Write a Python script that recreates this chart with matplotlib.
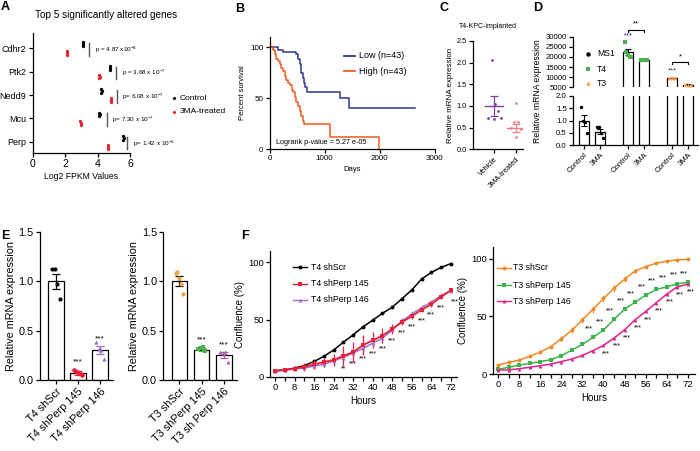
import numpy as np
import matplotlib
matplotlib.use('Agg')
import matplotlib.pyplot as plt
from matplotlib.lines import Line2D

plt.rcParams['font.family'] = ['Liberation Sans', 'DejaVu Sans']
plt.rcParams['mathtext.fontset'] = 'custom'
plt.rcParams['mathtext.rm'] = 'Liberation Sans'
plt.rcParams['mathtext.it'] = 'Liberation Sans:italic'
plt.rcParams['axes.linewidth'] = 0.9
plt.rcParams['xtick.major.width'] = 0.9
plt.rcParams['ytick.major.width'] = 0.9
plt.rcParams['xtick.major.size'] = 3
plt.rcParams['ytick.major.size'] = 3
plt.rcParams['xtick.major.pad'] = 1.5
plt.rcParams['ytick.major.pad'] = 1.5

# ---------------- data ----------------
# Panel A
genes = ['Cdhr2', 'Ptk2', 'Nedd9', 'Mcu', 'Perp']
a_control = [[3.09, 3.13, 3.11], [4.75, 4.79, 4.77], [4.21, 4.25, 4.23],
             [4.08, 4.12, 4.10], [5.56, 5.60, 5.58]]
a_treated = [[2.10, 2.14, 2.12], [4.08, 4.12, 4.10], [4.81, 4.85, 4.83],
             [2.94, 2.98, 2.96], [4.63, 4.67, 4.65]]
a_pvals = ['p = 4.87 x10$^{-8}$', 'p = 3.68 x 10$^{-7}$', 'p= 6.08 x 10$^{-7}$',
           'p= 7.30 x 10$^{-7}$', 'p= 1.42 x 10$^{-6}$']
a_sig_x = [3.5, 5.15, 5.2, 4.57, 5.84]

# Panel B (Kaplan-Meier steps)
low_days = [0, 150, 245, 490, 520, 550, 565, 580, 600, 620, 645, 675, 1285, 1450, 2650]
low_surv = [100, 97.7, 95.3, 93.0, 88.4, 83.7, 79.1, 74.4, 69.8, 65.1, 60.5, 55.8, 50.0, 40.5, 40.5]
high_days = [0, 60, 95, 125, 160, 190, 215, 245, 275, 305, 340, 370, 400, 430, 460,
             490, 520, 550, 575, 600, 625, 1100, 1990]
high_surv = [100, 97.7, 93.0, 88.4, 86.0, 83.7, 79.1, 76.7, 72.1, 67.4, 65.1, 62.8, 58.1,
             55.8, 51.2, 46.5, 41.9, 37.2, 32.6, 27.9, 24.4, 12.2, 0]

# Panel C
c_groups = ['Vehicle', '3MA-treated']
c_vehicle = [2.07, 1.05, 0.88, 0.72, 0.71, 0.72]
c_treated = [1.06, 0.64, 0.63, 0.50, 0.47, 0.28]
c_mean = [1.0, 0.49]
c_sem = [0.22, 0.10]

# Panel D
d_labels = ['Control', '3MA', 'Control', '3MA', 'Control', '3MA']
d_means = [1.0, 0.55, 22300, 18500, 9500, 6300]
d_sem = [0.22, 0.10, 1500, 300, 150, 150]
d_points = [[1.53, 1.0, 0.95, 0.50], [0.73, 0.73, 0.48, 0.28],
            [27600, 22500, 21000, 20000, 19800], [18700, 18500, 18300, 18400],
            [9600, 9500, 9400, 9500, 9450], [6400, 6300, 6200, 6350, 6300]]

# Panel E
e_left_labels = ['T4 shScr', 'T4 shPerp 145', 'T4 shPerp 146']
e_left_means = [1.0, 0.075, 0.30]
e_left_sem = [0.075, 0.02, 0.04]
e_left_pts = [[1.12, 1.12, 0.97, 0.82], [0.10, 0.08, 0.07, 0.05], [0.38, 0.31, 0.30, 0.21]]
e_right_labels = ['T3 shScr', 'T3 shPerp 145', 'T3 sh Perp 146']
e_right_means = [1.0, 0.305, 0.25]
e_right_sem = [0.05, 0.015, 0.03]
e_right_pts = [[1.08, 1.09, 1.03, 0.97, 0.87], [0.31, 0.32, 0.33, 0.29], [0.28, 0.27, 0.28, 0.18]]

# Panel F
hours = [0, 4, 8, 12, 16, 20, 24, 28, 32, 36, 40, 44, 48, 52, 56, 60, 64, 68, 72]
f_t4_scr = [5.2, 6.0, 7.8, 10.0, 13.6, 18.0, 23.5, 30.4, 36.8, 43.8, 49.6, 55.6, 60.9, 68.4, 76.0, 85.5, 91.3, 95.7, 99.0]
f_t4_145 = [5.5, 6.5, 7.2, 9.0, 11.0, 13.0, 15.0, 18.5, 21.7, 27.8, 31.9, 36.2, 42.0, 48.0, 53.0, 58.6, 63.5, 70.0, 75.6]
f_t4_146 = [5.0, 6.0, 7.0, 8.0, 9.5, 11.0, 14.0, 17.0, 21.0, 25.0, 29.5, 34.0, 41.0, 49.0, 55.0, 60.5, 65.5, 71.0, 75.5]
f_t4_145_err = [1.5, 1.5, 2.0, 3.5, 4.0, 4.0, 5.0, 8.5, 9.0, 9.0, 7.0, 6.5, 4.5, 3.0, 2.5, 2.0, 2.0, 2.0, 1.5]
f_t4_146_err = [1.0, 1.0, 1.0, 1.5, 2.0, 2.0, 2.0, 2.5, 2.5, 3.0, 3.0, 3.0, 3.0, 2.5, 2.5, 2.0, 2.0, 2.0, 1.5]
f_t3_scr = [7.8, 10.0, 12.0, 15.3, 19.0, 23.6, 30.5, 37.8, 47.0, 56.0, 65.4, 74.4, 82.0, 89.3, 93.0, 96.0, 97.7, 98.8, 99.4]
f_t3_145 = [4.0, 5.8, 7.5, 9.2, 10.7, 12.4, 15.8, 20.7, 25.6, 31.7, 38.0, 47.3, 56.2, 62.2, 68.3, 73.2, 75.5, 78.1, 79.5]
f_t3_146 = [3.5, 3.5, 4.6, 5.8, 7.2, 8.6, 10.7, 13.0, 16.1, 20.2, 24.8, 31.1, 38.3, 47.0, 54.2, 61.7, 69.2, 75.5, 77.8]
f_t3_scr_err = [1.0, 1.0, 1.0, 1.0, 1.0, 1.5, 2.0, 2.5, 2.5, 3.0, 3.0, 3.0, 2.5, 2.0, 1.5, 1.0, 1.0, 1.0, 1.0]

# ---------------- figure ----------------
W, H = 700, 451
fig = plt.figure(figsize=(7, 4.51), dpi=100)


def pax(x0, y0, x1, y1):
    return fig.add_axes([x0 / W, 1 - y1 / H, (x1 - x0) / W, (y1 - y0) / H])


def ftext(x, y, s, **kw):
    return fig.text(x / W, 1 - y / H, s, **kw)


def leg_entry(x0, x1, y, color, marker, label, fs, ms=3, lw=1.0, tx=None, mk_only=False):
    yy = 1 - y / H
    if not mk_only:
        fig.add_artist(Line2D([x0 / W, x1 / W], [yy, yy], color=color, lw=lw,
                              transform=fig.transFigure))
    fig.add_artist(Line2D([(x0 + x1) / 2 / W], [yy], marker=marker, color=color, ms=ms,
                          mew=0, transform=fig.transFigure))
    fig.text((tx if tx is not None else x1 + 4) / W, yy, label, fontsize=fs,
             va='center', ha='left')


def clean(ax):
    ax.spines['top'].set_visible(False)
    ax.spines['right'].set_visible(False)


# panel letters
for lab, (x, y) in zip('ABCDEF', [(1, 1), (235, 3), (440, 2), (533, 2), (1, 230), (241, 230)]):
    ftext(x, y, lab, fontsize=9, fontweight='bold', va='top', ha='left')

# ---------- Panel A ----------
axA = pax(32.7, 33.3, 130, 153)
clean(axA)
axA.set_xlim(0, 6)
axA.set_ylim(4.48, -0.64)
rep_off = [-0.08, 0.0, 0.08]
for i in range(len(genes)):
    for k in range(3):
        axA.plot(a_control[i][k], i - 0.17 + rep_off[k], 'o', color='black', ms=2.4, mew=0)
        axA.plot(a_treated[i][k], i + 0.21 + rep_off[k], 'o', color='#e3262f', ms=2.4, mew=0)
    axA.plot([a_sig_x[i]] * 2, [i - 0.21, i + 0.33], color='#555555', lw=1.0)
    axA.text(a_sig_x[i] + 0.33, i + 0.07, a_pvals[i], fontsize=4.6, va='center',
             ha='left', clip_on=False)
axA.set_yticks(range(len(genes)))
axA.set_yticklabels(genes, fontsize=6.5)
axA.set_xticks([0, 2, 4, 6])
axA.tick_params(axis='x', labelsize=7.5)
axA.set_xlabel('Log2 FPKM Values', fontsize=6.2, labelpad=2)
ftext(106, 15, 'Top 5 significantly altered genes', fontsize=7.2, ha='center', va='center')
leg_entry(172, 176, 98.3, 'black', 'o', 'Control', 6, ms=2.2, tx=180, mk_only=True)
leg_entry(172, 176, 111.5, '#e3262f', 'o', '3MA-treated', 6, ms=2.2, tx=180, mk_only=True)

# ---------- Panel B ----------
axB = pax(269.5, 37, 434.5, 149)
clean(axB)
blue = '#2b3990'
orange = '#f15a22'
axB.step(low_days, low_surv, where='post', color=blue, lw=1.1, clip_on=False)
axB.step(high_days, high_surv, where='post', color=orange, lw=1.1, clip_on=False)
axB.set_xlim(0, 3000)
axB.set_ylim(0, 110)
axB.set_xticks([0, 1000, 2000, 3000])
axB.set_yticks([0, 50, 100])
axB.tick_params(labelsize=5.8)
axB.set_xlabel('Days', fontsize=5.5, labelpad=3)
axB.set_ylabel('Percent survival', fontsize=5.5, labelpad=3)
axB.text(0.04, 0.06, 'Logrank p-value = 5.27 e-05', transform=axB.transAxes,
         fontsize=5.2, va='center', ha='left')
leg_entry(344, 355, 56, blue, None, 'Low (n=43)', 6.5, lw=1.3, tx=359)
leg_entry(344, 355, 71, orange, None, 'High (n=43)', 6.5, lw=1.3, tx=359)

# ---------- Panel C ----------
axC = pax(473, 41, 523, 149.3)
clean(axC)
c_cols = ['#7b3f9e', '#ef7f8f']
c_jit = [[-0.1, 0.05, 0.15, -0.3, 0.0, 0.3], [0.0, -0.1, 0.1, -0.25, 0.25, 0.0]]
for g, pts in enumerate([c_vehicle, c_treated]):
    axC.plot([g + j for j in c_jit[g]], pts, 'o', color=c_cols[g], ms=2.0, mew=0)
    axC.plot([g - 0.42, g + 0.42], [c_mean[g]] * 2, color=c_cols[g], lw=1.0)
    axC.errorbar(g, c_mean[g], yerr=c_sem[g], color=c_cols[g], capsize=3, lw=0.9,
                 capthick=0.9)
axC.set_xlim(-0.98, 1.32)
axC.set_ylim(0, 2.5)
axC.set_yticks([0, 0.5, 1.0, 1.5, 2.0, 2.5])
axC.set_yticklabels(['0.0', '0.5', '1.0', '1.5', '2.0', '2.5'])
axC.set_xticks([0, 1])
axC.set_xticklabels(c_groups, rotation=45, ha='right', rotation_mode='anchor')
axC.tick_params(labelsize=5.3)
axC.set_ylabel('Relative mRNA expression', fontsize=5.8, labelpad=2)
ftext(488, 26, 'T4-KPC-implanted', fontsize=5.0, ha='center', va='center')

# ---------- Panel D ----------
d_pos = [0, 1, 2.75, 3.75, 5.5, 6.5]
d_cols = ['black', 'black', '#4caf50', '#4caf50', '#f7a048', '#f7a048']
d_mk = ['o', 'o', 's', 's', '^', '^']
axDu = pax(573, 36.7, 698, 87.3)
axDl = pax(573, 95.7, 698, 145.3)
for ax in (axDu, axDl):
    clean(ax)
    ax.set_xlim(-0.69, 7.12)
    ax.bar(d_pos, d_means, width=0.67, color='white', edgecolor='black', lw=0.9, zorder=1)
    for i in range(6):
        pts = d_points[i]
        jit = np.linspace(-0.2, 0.2, len(pts))
        ax.plot(d_pos[i] + jit, pts, d_mk[i], color=d_cols[i], ms=2.5, mew=0, zorder=3)
        ax.errorbar(d_pos[i], d_means[i], yerr=d_sem[i], color='black', capsize=2.0,
                    lw=0.8, capthick=0.8, zorder=2)
axDu.set_ylim(5000, 30000)
axDu.spines['bottom'].set_visible(False)
axDu.set_xticks([])
axDu.set_yticks([5000, 10000, 15000, 20000, 25000, 30000])
axDu.tick_params(labelsize=5.6)
axDl.set_ylim(0, 2.0)
axDl.set_yticks([0, 0.5, 1.0, 1.5, 2.0])
axDl.set_yticklabels(['0.0', '0.5', '1.0', '1.5', '2.0'])
axDl.set_xticks(d_pos)
axDl.set_xticklabels(d_labels, rotation=45, ha='right', rotation_mode='anchor')
axDl.tick_params(labelsize=5.6)
ftext(538, 91.5, 'Relative mRNA expression', fontsize=6.2, rotation=90, ha='center', va='center')
navy = '#1f2d6b'
axDu.text(d_pos[2], 30400, '***', color=navy, fontsize=5.5, ha='center', va='center', clip_on=False)
axDu.text(d_pos[4], 12900, '***', color=navy, fontsize=5.5, ha='center', va='center', clip_on=False)
axDu.plot([d_pos[2], d_pos[2], d_pos[3], d_pos[3]], [32300, 33400, 33400, 32300],
          color='black', lw=0.8, clip_on=False)
axDu.text((d_pos[2] + d_pos[3]) / 2, 36300, '**', fontsize=5.5, ha='center', va='center', clip_on=False)
axDu.plot([d_pos[4], d_pos[4], d_pos[5], d_pos[5]], [16400, 17500, 17500, 16400],
          color='black', lw=0.8, clip_on=False)
axDu.text((d_pos[4] + d_pos[5]) / 2, 19900, '*', fontsize=5.5, ha='center', va='center', clip_on=False)
leg_entry(586, 590, 54, 'black', 'o', 'MS1', 6.2, ms=3.2, tx=597, mk_only=True)
leg_entry(586, 590, 69, '#4caf50', 's', 'T4', 6.2, ms=3.2, tx=597, mk_only=True)
leg_entry(586, 590, 83, '#f7a048', '^', 'T3', 6.2, ms=3.2, tx=597, mk_only=True)


# ---------- Panel E ----------
def e_panel(ax, labels, means, sems, pts, cols, mks):
    clean(ax)
    x = [0, 1, 2]
    ax.bar(x, means, width=0.7, color='white', edgecolor='black', lw=0.9, zorder=1)
    for i in range(3):
        jit = np.linspace(-0.17, 0.17, len(pts[i]))
        ax.plot(np.array(x[i]) + jit, pts[i], mks[i], color=cols[i], ms=3, mew=0, zorder=3)
        ax.errorbar(x[i], means[i], yerr=sems[i], color=cols[i] if i else 'black',
                    capsize=3, lw=0.9, capthick=0.9, zorder=2)
    ax.set_xlim(-0.72, 2.58)
    ax.set_ylim(0, 1.5)
    ax.set_yticks([0, 0.5, 1.0, 1.5])
    ax.set_yticklabels(['0.0', '0.5', '1.0', '1.5'])
    ax.set_xticks(x)
    ax.set_xticklabels(labels, rotation=45, ha='right', rotation_mode='anchor')
    ax.tick_params(labelsize=7.8)
    ax.set_ylabel('Relative mRNA expression', fontsize=7.8, labelpad=2)


axEl = pax(40, 231.7, 113, 380)
e_panel(axEl, e_left_labels, e_left_means, e_left_sem, e_left_pts,
        ['black', '#e8203a', '#9b6fc0'], ['o', 'D', '^'])
axEl.text(1, 0.185, '***', fontsize=6, ha='center', va='center')
axEl.text(2, 0.42, '***', fontsize=6, ha='center', va='center')
axEr = pax(163.3, 231.7, 236.7, 380)
e_panel(axEr, e_right_labels, e_right_means, e_right_sem, e_right_pts,
        ['#f5a040', '#4cb04c', '#b05fb0'], ['o', 's', '^'])
axEr.text(1, 0.41, '***', fontsize=6, ha='center', va='center')
axEr.text(2, 0.36, '***', fontsize=6, ha='center', va='center')


# ---------- Panel F ----------
def f_axes(ax):
    clean(ax)
    ax.set_ylim(0, 110)
    ax.set_yticks([0, 50, 100])
    ax.set_xticks(list(range(0, 73, 8)))
    ax.set_xticks(list(range(4, 73, 8)), minor=True)
    ax.tick_params(which='minor', length=3, width=0.9)
    ax.tick_params(labelsize=6.8)
    ax.set_xlabel('Hours', fontsize=7, labelpad=3)
    ax.set_ylabel('Confluence (%)', fontsize=7, labelpad=2)


axFl = pax(270, 251, 457, 377)
f_axes(axFl)
axFl.set_xlim(-2.05, 74.5)
axFl.plot(hours, f_t4_scr, '-o', color='black', ms=2.8, lw=1.1, mew=0)
axFl.errorbar(hours, f_t4_146, yerr=f_t4_146_err, fmt='-^', color='#a070c8', ms=2.8,
              lw=1.1, mew=0, capsize=1.5, elinewidth=0.8)
axFl.errorbar(hours, f_t4_145, yerr=f_t4_145_err, fmt='-s', color='#e8203a', ms=2.8,
              lw=1.3, mew=0, capsize=1.5, elinewidth=0.9)
for i, h in enumerate(hours):
    if h >= 28:
        lo = min(f_t4_145[i], f_t4_146[i])
        axFl.text(h + (1.5 if h == 72 else 0), lo - 9.5, '**' if h == 28 else '***',
                  fontsize=5, ha='center', va='center', clip_on=False)
leg_entry(293, 307, 267, 'black', 'o', 'T4 shScr', 6.3, ms=2.8, tx=311)
leg_entry(293, 307, 283.5, '#e8203a', 's', 'T4 shPerp 145', 6.3, ms=2.8, tx=311)
leg_entry(293, 307, 300, '#a070c8', '^', 'T4 shPerp 146', 6.3, ms=2.8, tx=311)

axFr = pax(493, 247, 695, 374)
f_axes(axFr)
axFr.set_xlim(-1.9, 74.7)
axFr.errorbar(hours, f_t3_scr, yerr=f_t3_scr_err, fmt='-o', color='#f08a24', ms=2.8,
              lw=1.1, mew=0, capsize=1.5, elinewidth=0.8)
axFr.plot(hours, f_t3_145, '-s', color='#3cb44b', ms=2.8, lw=1.1, mew=0)
axFr.plot(hours, f_t3_146, '-^', color='#e0218a', ms=2.8, lw=1.1, mew=0)
for i, h in enumerate(hours):
    if h >= 36:
        axFr.text(h - 1.5, f_t3_145[i] + 7.5, '***', fontsize=5, ha='center', va='center', clip_on=False)
    if h >= 40:
        axFr.text(h + 1.0, f_t3_146[i] - 7.0, '***', fontsize=5, ha='center', va='center', clip_on=False)
leg_entry(497, 511, 268, '#f08a24', 'o', 'T3 shScr', 6.3, ms=2.8, tx=513)
leg_entry(497, 511, 285, '#3cb44b', 's', 'T3 shPerp 145', 6.3, ms=2.8, tx=513)
leg_entry(497, 511, 301, '#e0218a', '^', 'T3 shPerp 146', 6.3, ms=2.8, tx=513)

fig.savefig('out.png', dpi=100)
